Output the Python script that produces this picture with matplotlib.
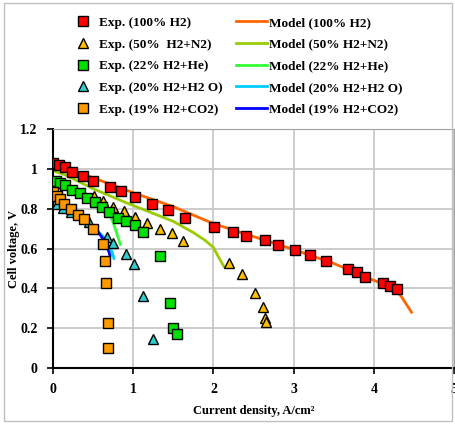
import matplotlib.pyplot as plt
from matplotlib.patches import Rectangle

# experimental data (current density A/cm2, cell voltage V)
x_h2 = [0.0, 0.07, 0.15, 0.24, 0.37, 0.5, 0.71, 0.85, 1.02, 1.24, 1.43, 1.65, 2.01,
        2.24, 2.41, 2.64, 2.81, 3.02, 3.2, 3.4, 3.68, 3.79, 3.89, 4.11, 4.2, 4.29]
y_h2 = [1.03, 1.02, 1.01, 0.985, 0.963, 0.938, 0.908, 0.888, 0.857, 0.822, 0.792, 0.751, 0.706,
        0.681, 0.661, 0.645, 0.62, 0.59, 0.565, 0.535, 0.499, 0.484, 0.459, 0.429, 0.414, 0.398]

x_n2 = [0.51, 0.62, 0.75, 0.89, 1.02, 1.17, 1.33, 1.49, 1.62, 2.19, 2.36, 2.52, 2.62, 2.64, 2.66]
y_n2 = [0.865, 0.837, 0.81, 0.787, 0.76, 0.73, 0.70, 0.676, 0.638, 0.526, 0.474, 0.378, 0.308, 0.252, 0.232]

x_he = [0.04, 0.09, 0.15, 0.24, 0.34, 0.43, 0.52, 0.61, 0.7, 0.81, 0.91, 1.025, 1.125, 1.33, 1.46, 1.5, 1.55]
y_he = [0.94, 0.93, 0.92, 0.895, 0.877, 0.852, 0.832, 0.807, 0.782, 0.751, 0.736, 0.716, 0.681, 0.56, 0.328, 0.20, 0.17]

x_h2o = [0.05, 0.13, 0.225, 0.45, 0.67, 0.75, 0.91, 1.01, 1.12, 1.25]
y_h2o = [0.825, 0.805, 0.785, 0.735, 0.66, 0.628, 0.57, 0.52, 0.36, 0.145]

x_co2 = [0.0, 0.05, 0.09, 0.14, 0.22, 0.31, 0.39, 0.5, 0.62, 0.65, 0.66, 0.69, 0.69]
y_co2 = [0.885, 0.865, 0.85, 0.825, 0.80, 0.77, 0.75, 0.70, 0.625, 0.535, 0.425, 0.225, 0.10]

# model curves
mx_h2 = [0.0, 0.5, 1.0, 1.5, 2.0, 2.5, 3.0, 3.5, 4.0, 4.2, 4.3, 4.35, 4.47]
my_h2 = [1.03, 0.955, 0.88, 0.81, 0.725, 0.66, 0.595, 0.525, 0.44, 0.41, 0.38, 0.355, 0.28]

mx_n2 = [0.0, 0.15, 0.5, 0.9, 1.1, 1.5, 1.75, 1.9, 2.0, 2.06, 2.13]
my_n2 = [0.99, 0.97, 0.90, 0.832, 0.80, 0.736, 0.68, 0.64, 0.605, 0.56, 0.51]

mx_he = [0.0, 0.2, 0.4, 0.6, 0.7, 0.75, 0.8, 0.84]
my_he = [0.95, 0.91, 0.87, 0.82, 0.78, 0.73, 0.67, 0.62]

mx_h2o = [0.0, 0.2, 0.4, 0.55, 0.65, 0.7, 0.74, 0.76]
my_h2o = [0.84, 0.79, 0.74, 0.69, 0.65, 0.61, 0.58, 0.55]

mx_co2 = [0.0, 0.2, 0.4, 0.55, 0.62, 0.67, 0.7, 0.71]
my_co2 = [0.86, 0.80, 0.745, 0.69, 0.65, 0.61, 0.58, 0.565]

plt.rcParams['font.family'] = 'Liberation Serif'
plt.rcParams['font.weight'] = 'bold'

fig = plt.figure(figsize=(4.56, 4.24), dpi=100)
ax = fig.add_axes([53/456, 56/424, 401/456, 239/424])

# Modelle
l1, = ax.plot(mx_h2, my_h2, color='#ff6600', lw=2, zorder=2)
l2, = ax.plot(mx_n2, my_n2, color='#99cc00', lw=2, zorder=2)
l3, = ax.plot(mx_he, my_he, color='#33ff33', lw=2, zorder=2)
l4, = ax.plot(mx_h2o, my_h2o, color='#00ccff', lw=2, zorder=2)
l5, = ax.plot(mx_co2, my_co2, color='#0000ff', lw=2, zorder=2)

# Messwerte
mk = dict(linestyle='none', markeredgecolor='black', markeredgewidth=1, zorder=3)
p1, = ax.plot(x_h2, y_h2, marker='s', ms=7, color='#ff0000', **mk)
p2, = ax.plot(x_n2, y_n2, marker='^', ms=7, color='#ffc000', **mk)
p3, = ax.plot(x_he, y_he, marker='s', ms=7, color='#00e000', **mk)
p4, = ax.plot(x_h2o, y_h2o, marker='^', ms=7, color='#33cccc', **mk)
p5, = ax.plot(x_co2, y_co2, marker='s', ms=7, color='#ff9900', **mk)

ax.set_xlim(0, 5)
ax.set_ylim(0, 1.2)
ax.set_xticks([0, 1, 2, 3, 4, 5])
ax.set_yticks([0, 0.2, 0.4, 0.6, 0.8, 1.0, 1.2])
ax.set_yticklabels(['0', '0.2', '0.4', '0.6', '0.8', '1', '1.2'])
ax.grid(True, color='#c8c8c8', lw=1.3)
ax.set_axisbelow(True)
for s in ['top', 'right']:
    ax.spines[s].set_color('#a0a0a0')
for s in ['left', 'bottom']:
    ax.spines[s].set_linewidth(1.5)
ax.tick_params(direction='out', length=4, width=1.2, labelsize=10, pad=7)
ax.set_xlabel('Current density, A/cm²', fontsize=9, fontweight='bold', labelpad=6)
ax.set_ylabel('Cell voltage, V', fontsize=9, fontweight='bold', labelpad=0)

exp_labels = ['Exp. (100% H2)', 'Exp. (50%  H2+N2)', 'Exp. (22% H2+He)',
              'Exp. (20% H2+H2 O)', 'Exp. (19% H2+CO2)']
mod_labels = ['Model (100% H2)', 'Model (50% H2+N2)', 'Model (22% H2+He)',
              'Model (20% H2+H2 O)', 'Model (19% H2+CO2)']
leg1 = fig.legend([p1, p2, p3, p4, p5], exp_labels, loc='upper left',
                  bbox_to_anchor=(62/456, 1 - 10/424), frameon=False, fontsize=9.5,
                  handlelength=2.2, handletextpad=0.1, labelspacing=0.72, borderpad=0)
leg2 = fig.legend([l1, l2, l3, l4, l5], mod_labels, loc='upper left',
                  bbox_to_anchor=(229/456, 1 - 10/424), frameon=False, fontsize=9.5,
                  handlelength=2.4, handletextpad=0.15, labelspacing=0.72, borderpad=0)

fig.patches.append(Rectangle((4/456, 3/424), 448/456, 418/424, transform=fig.transFigure,
                             fill=False, edgecolor='#c0c0c0', lw=1))

plt.savefig('out.png', dpi=100)
